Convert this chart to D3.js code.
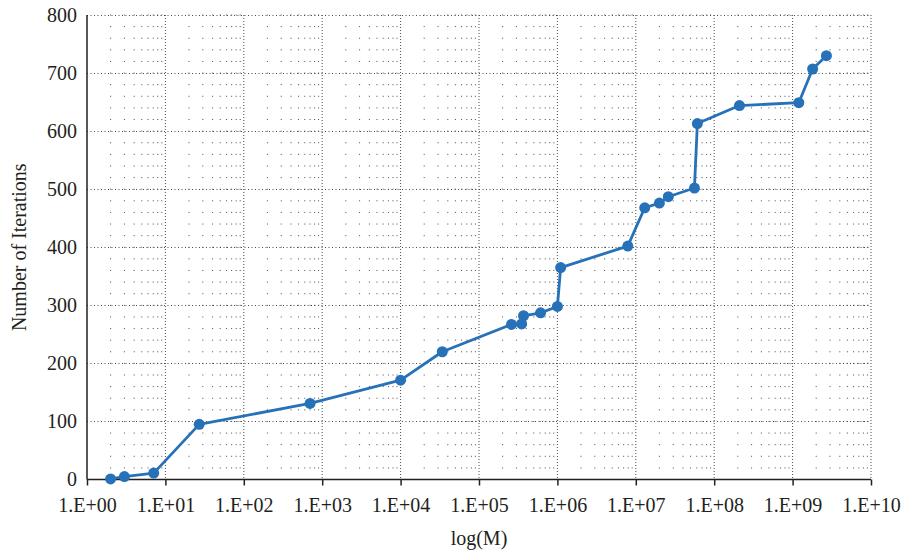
<!DOCTYPE html>
<html>
<head>
<meta charset="utf-8">
<script src="https://cdn.jsdelivr.net/npm/d3@7"></script>
<style>
  html, body { margin: 0; padding: 0; background: #fff; }
  svg { display: block; }
  text { font-family: "Liberation Serif", "DejaVu Serif", serif; fill: #231f20; }
</style>
</head>
<body>
<svg id="chart" width="902" height="554"></svg>
<script>
// ---- data ----
const mValues = [2, 3, 7.1, 27, 700, 1.0e4, 3.4e4, 2.6e5, 3.5e5, 3.7e5, 6.1e5, 1.0e6, 1.1e6,
                 7.9e6, 1.3e7, 2.0e7, 2.6e7, 5.6e7, 6.1e7, 2.1e8, 1.2e9, 1.8e9, 2.7e9];
const iterations = [1, 5, 11, 95, 131, 171, 220, 267, 268, 282, 287, 298, 365,
                    402, 468, 476, 487, 502, 613, 644, 649, 707, 730];
const xTickValues = [1e0, 1e1, 1e2, 1e3, 1e4, 1e5, 1e6, 1e7, 1e8, 1e9, 1e10];
const xTickLabels = ["1.E+00", "1.E+01", "1.E+02", "1.E+03", "1.E+04", "1.E+05",
                     "1.E+06", "1.E+07", "1.E+08", "1.E+09", "1.E+10"];
const yTickValues = [0, 100, 200, 300, 400, 500, 600, 700, 800];
const xTitle = "log(M)";
const yTitle = "Number of Iterations";

// ---- layout ----
const svg = d3.select("#chart");
const pLeft = 87, pRight = 871, pTop = 15, pBottom = 479.5;
const x = d3.scaleLog().domain([1, 1e10]).range([pLeft, pRight]);
const y = d3.scaleLinear().domain([0, 800]).range([pBottom, pTop]);
const lineColor = "#2671b8";
const gridColor = "#4a4a4a";

const grid = svg.append("g");

// minor vertical gridlines (log 2..9 within each decade) as dots on every 20-unit row
const minorStep = y(0) - y(20);
const minorX = [];
for (let d = 0; d < 10; d++) {
  for (let k = 2; k <= 9; k++) minorX.push(k * Math.pow(10, d));
}
grid.selectAll("line.minor-v").data(minorX).enter().append("line")
  .attr("class", "minor-v")
  .attr("x1", d => x(d)).attr("x2", d => x(d))
  .attr("y1", y(800) - 0.5).attr("y2", y(0))
  .attr("stroke", gridColor).attr("stroke-width", 1)
  .attr("stroke-dasharray", `1,${(minorStep - 1).toFixed(3)}`);

// major vertical gridlines (decades)
grid.selectAll("line.major-v").data(xTickValues.slice(1)).enter().append("line")
  .attr("class", "major-v")
  .attr("x1", d => x(d)).attr("x2", d => x(d))
  .attr("y1", y(800)).attr("y2", y(0))
  .attr("stroke", gridColor).attr("stroke-width", 1)
  .attr("stroke-dasharray", "1,2");

// major horizontal gridlines
grid.selectAll("line.major-h").data(yTickValues.slice(1)).enter().append("line")
  .attr("class", "major-h")
  .attr("x1", pLeft).attr("x2", pRight)
  .attr("y1", d => Math.round(y(d)) + 0.5).attr("y2", d => Math.round(y(d)) + 0.5)
  .attr("stroke", gridColor).attr("stroke-width", 1)
  .attr("stroke-dasharray", "1,2.5");

// ---- axes ----
const xAxis = d3.axisBottom(x)
  .tickValues(xTickValues)
  .tickFormat((d, i) => xTickLabels[i])
  .tickSize(6)
  .tickPadding(12);
const gx = svg.append("g").attr("transform", `translate(0,${pBottom})`).call(xAxis);
gx.select(".domain").attr("stroke", "#231f20").attr("stroke-width", 1.5).attr("d", `M${pLeft},0H${pRight}`);
gx.selectAll(".tick line").attr("stroke", "#231f20").attr("stroke-width", 1.5);
gx.selectAll(".tick text").attr("font-size", 20).attr("fill", "#231f20")
  .style("font-family", '"Liberation Serif", serif');

const yAxis = d3.axisLeft(y)
  .tickValues(yTickValues)
  .tickFormat(d3.format("d"))
  .tickSize(0)
  .tickPadding(10);
const gy = svg.append("g").attr("transform", `translate(${pLeft},0)`).call(yAxis);
gy.select(".domain").attr("stroke", "#231f20").attr("stroke-width", 1.5).attr("d", `M0,${pTop}V${pBottom}`);
gy.selectAll(".tick text").attr("font-size", 20).attr("fill", "#231f20")
  .style("font-family", '"Liberation Serif", serif');

// titles
svg.append("text")
  .attr("x", (pLeft + pRight) / 2).attr("y", 545)
  .attr("text-anchor", "middle").attr("font-size", 20)
  .text(xTitle);
svg.append("text")
  .attr("transform", `translate(26,${(pTop + pBottom) / 2}) rotate(-90)`)
  .attr("text-anchor", "middle").attr("font-size", 20)
  .text(yTitle);

// ---- series ----
const pts = mValues.map((m, i) => ({ m, v: iterations[i] }));
svg.append("path")
  .datum(pts)
  .attr("fill", "none")
  .attr("stroke", lineColor)
  .attr("stroke-width", 2.8)
  .attr("stroke-linejoin", "round")
  .attr("d", d3.line().x(d => x(d.m)).y(d => y(d.v)));
svg.append("g").selectAll("circle").data(pts).enter().append("circle")
  .attr("cx", d => x(d.m)).attr("cy", d => y(d.v))
  .attr("r", 5.5)
  .attr("fill", lineColor);
</script>
</body>
</html>
